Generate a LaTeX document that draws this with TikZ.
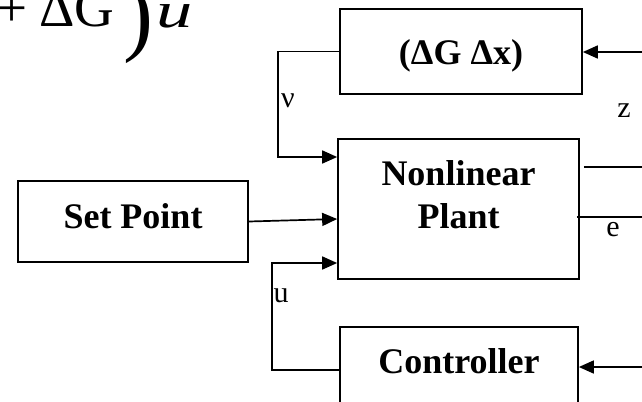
\documentclass[tikz,border=0pt]{standalone}
\usepackage{fontspec}
\setmainfont{Liberation Serif}
\usetikzlibrary{arrows.meta,calc}
\begin{document}
\begin{tikzpicture}[x=1bp,y=-1bp,
  block/.style={draw,line width=1.7bp,inner sep=0pt,align=center,
    font=\fontsize{36bp}{43bp}\selectfont\bfseries},
  wire/.style={line width=1.7bp},
  feed/.style={wire,-{Triangle[length=15bp,width=13bp]}},
  sig/.style={inner sep=0pt,font=\fontsize{30bp}{34bp}\selectfont},
  formula/.style={anchor=base,inner sep=0pt,font=\fontsize{55bp}{55bp}\selectfont}]
\useasboundingbox (0,0) rectangle (642,401);
\clip (0,0) rectangle (642,401);

% tail of the control law
\node[formula] (fplus) at (12.5,26) {+};
\node[formula] (fdg) at (77,26) {ΔG};
\node[formula,font=\fontsize{90bp}{90bp}\selectfont] (fpar) at (138.5,44) {)};
\node[formula,font=\fontsize{50bp}{50bp}\selectfont\itshape] (fu) at (175,27) {\scalebox{1.45}[1]{u}};

% blocks (text height/depth place each caption a little above centre)
\node[block,minimum width=242bp,minimum height=85bp,text height=32bp,text depth=7bp] (dg) at (461,51.5) {(ΔG Δx)};
\node[block,minimum width=241bp,minimum height=140bp,text height=73bp,text depth=35bp] (plant) at (458.5,209) {Nonlinear\\Plant};
\node[block,minimum width=230bp,minimum height=81bp,text height=26bp,text depth=13bp] (sp) at (133,221.5) {Set Point};
\node[block,minimum width=238bp,text height=47bp,text depth=47bp,anchor=north] (ctrl) at (459,326) {Controller};

% routing points
\coordinate (zin) at (642,52);
\coordinate (cin) at (642,367);
\coordinate (nu) at (278,157);
\coordinate (ub) at (272,263);

% connectors
\draw[feed] (zin) -- (zin -| dg.east);
\draw[feed] (dg.west) -| (nu) -- (nu -| plant.west);
\draw[feed] (sp.east) -- ($(plant.west)+(0,10)$);
\draw[feed] ($(ctrl.north west)+(0,44)$) -| (ub) -- (ub -| plant.west);
\draw[feed] (cin) -- (cin -| ctrl.east);
\draw[wire] ($(plant.east)+(4,-42)$) -- ++(62,0);
\draw[wire] ($(plant.east)+(-3,8)$) -- ++(70,0);

% signal labels
\node[sig] (lnu) at (288,101) {ν};
\node[sig] (lz) at (624,110.5) {z};
\node[sig] (le) at (613,229.5) {e};
\node[sig] (lu) at (281,296) {u};
\end{tikzpicture}
\end{document}
